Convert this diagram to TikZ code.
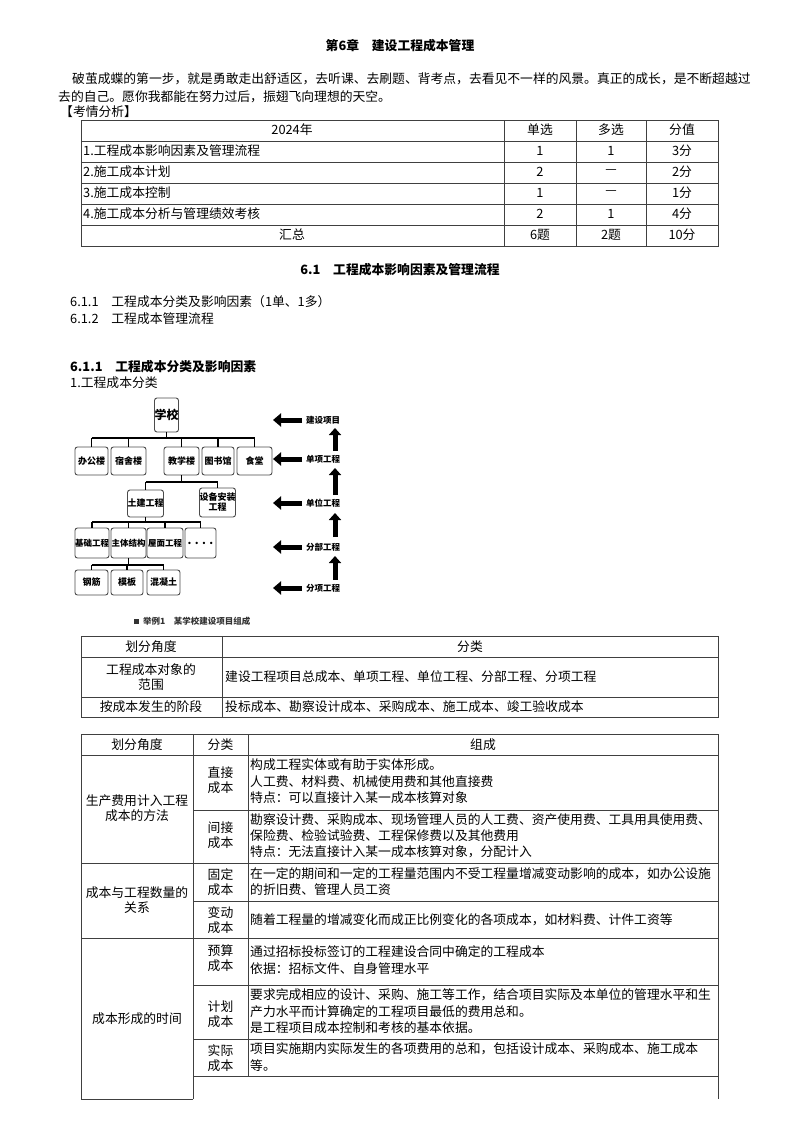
\documentclass[tikz,border=0pt]{standalone}
\usepackage{fontspec}
\setmainfont{Noto Sans CJK SC}
\usetikzlibrary{arrows.meta}
\begin{document}
\begin{tikzpicture}[x=1pt,y=-1pt,
  every node/.style={inner sep=0pt,font=\fontsize{12.8}{15}\selectfont},
  tl/.style={anchor=west},
  grid/.style={draw=black!75,line width=0.9pt},
  bx/.style={draw=black!70,line width=0.9pt,rounded corners=2.5pt,fill=white,minimum height=28pt,font=\fontsize{9}{10}\bfseries\selectfont,align=center},
  conn/.style={line width=1.1pt},
  lab/.style={font=\fontsize{8.5}{10}\bfseries\selectfont,anchor=west},
  larr/.style={line width=5pt,-{Triangle[length=8pt,width=13pt]}},
  uarr/.style={line width=5pt,-{Triangle[length=7pt,width=12pt]}}]
\useasboundingbox (0,0) rectangle (800,1132);
% header
\node[font=\fontsize{12.8}{15}\bfseries\selectfont] (t) at (400,46) {第6章\quad 建设工程成本管理};
\node[tl] (p1) at (72,79) {破茧成蝶的第一步，就是勇敢走出舒适区，去听课、去刷题、背考点，去看见不一样的风景。真正的成长，是不断超越过};
\node[tl] (p2) at (58,97) {去的自己。愿你我都能在努力过后，振翅飞向理想的天空。};
\node[tl] (p3) at (60,112) {【考情分析】};
% table 1
\draw[grid] (81,120) rectangle (718,246);
\foreach \y in {141,162,183,204,225} \draw[grid] (81,\y) -- (718,\y);
\foreach \x in {504,576,646} \draw[grid] (\x,120) -- (\x,246);
\node (h1) at (292,130) {2024年}; \node (h2) at (540,130) {单选}; \node (h3) at (611,130) {多选}; \node (h4) at (682,130) {分值};
\node[tl] (r1) at (83,151) {1.工程成本影响因素及管理流程}; \node (r1a) at (540,151) {1}; \node (r1b) at (611,151) {1}; \node (r1c) at (682,151) {3分};
\node[tl] (r2) at (83,172) {2.施工成本计划}; \node (r2a) at (540,172) {2}; \node (r2b) at (611,172) {—}; \node (r2c) at (682,172) {2分};
\node[tl] (r3) at (83,193) {3.施工成本控制}; \node (r3a) at (540,193) {1}; \node (r3b) at (611,193) {—}; \node (r3c) at (682,193) {1分};
\node[tl] (r4) at (83,214) {4.施工成本分析与管理绩效考核}; \node (r4a) at (540,214) {2}; \node (r4b) at (611,214) {1}; \node (r4c) at (682,214) {4分};
\node (r5) at (292,235) {汇总}; \node (r5a) at (540,235) {6题}; \node (r5b) at (611,235) {2题}; \node (r5c) at (682,235) {10分};
% headings
\node[font=\fontsize{12.8}{15}\bfseries\selectfont] (s1) at (400,270) {6.1\quad 工程成本影响因素及管理流程};
\node[tl] (s2) at (70,302) {6.1.1\quad 工程成本分类及影响因素（1单、1多）};
\node[tl] (s3) at (70,319) {6.1.2\quad 工程成本管理流程};
\node[tl,font=\fontsize{12.8}{15}\bfseries\selectfont] (s4) at (70,367) {6.1.1\quad 工程成本分类及影响因素};
\node[tl] (s5) at (70,383) {1.工程成本分类};
% diagram
\node[bx,minimum width=23pt,minimum height=34pt,font=\fontsize{12}{13}\bfseries\selectfont] (xx) at (166.5,415) {学校};
\node[bx,minimum width=33pt] (b1) at (91.5,461) {办公楼};
\node[bx,minimum width=35pt] (b2) at (128.5,461) {宿舍楼};
\node[bx,minimum width=35pt] (b3) at (181.5,461) {教学楼};
\node[bx,minimum width=32pt] (b4) at (218,461) {图书馆};
\node[bx,minimum width=35pt] (b5) at (254.5,461) {食堂};
\node[bx,minimum width=35pt,minimum height=27pt] (c1) at (145.5,503.5) {土建工程};
\node[bx,minimum width=35pt,minimum height=29pt] (c2) at (217.5,502.5) {设备安装\\工程};
\node[bx,minimum width=34pt,minimum height=30pt,font=\fontsize{8.5}{10}\bfseries\selectfont] (d1) at (92,543) {基础工程};
\node[bx,minimum width=35pt,minimum height=30pt,font=\fontsize{8.5}{10}\bfseries\selectfont] (d2) at (128.5,543) {主体结构};
\node[bx,minimum width=36pt,minimum height=30pt,font=\fontsize{8.5}{10}\bfseries\selectfont] (d3) at (165,543) {屋面工程};
\node[bx,minimum width=31pt,minimum height=30pt,font=\fontsize{11}{12}\bfseries\selectfont] (d4) at (200.5,543) {. . . .};
\node[bx,minimum width=33pt,minimum height=25pt] (e1) at (91.5,582.5) {钢筋};
\node[bx,minimum width=32pt,minimum height=25pt] (e2) at (127,582.5) {模板};
\node[bx,minimum width=33pt,minimum height=25pt] (e3) at (163.5,582.5) {混凝土};
\draw[conn] (xx.south) -- (xx.south |- 0,438);
\draw[conn] (b1.north |- 0,438) -- (b5.north |- 0,438);
\foreach \n in {b1,b2,b3,b4,b5} \draw[conn] (\n.north |- 0,438) -- (\n.north);
\draw[conn] (b3.south) -- (b3.south |- 0,482);
\draw[conn] (c1.north |- 0,482) -- (c2.north |- 0,482);
\foreach \n in {c1,c2} \draw[conn] (\n.north |- 0,482) -- (\n.north);
\draw[conn] (c1.south) -- (c1.south |- 0,522);
\draw[conn] (d1.north |- 0,522) -- (d4.north |- 0,522);
\foreach \n in {d1,d2,d3,d4} \draw[conn] (\n.north |- 0,522) -- (\n.north);
\draw[conn] (d2.south) -- (d2.south |- 0,565);
\draw[conn] (e1.north |- 0,565) -- (e3.north |- 0,565);
\foreach \n in {e1,e2,e3} \draw[conn] (\n.north |- 0,565) -- (\n.north);
\node[lab] (l1) at (306,420) {建设项目};
\node[lab] (l2) at (306,459) {单项工程};
\node[lab] (l3) at (306,503) {单位工程};
\node[lab] (l4) at (306,547) {分部工程};
\node[lab] (l5) at (306,588) {分项工程};
\foreach \n in {l1,l2,l3,l4,l5} {\coordinate (\n s) at ([xshift=-4pt]\n.west); \coordinate (\n e) at ([xshift=-33pt]\n.west); \draw[larr] (\n s) -- (\n e);}
\foreach \a/\b/\ya/\yb in {l5/l4/580/556,l4/l3/537/513,l3/l2/495/468,l2/l1/451/428} {
  \coordinate (\a u) at (335,\ya); \coordinate (\b d) at (335,\yb);
  \draw[uarr] (\a u) -- (\b d);}
\node[tl,font=\fontsize{8.5}{10}\bfseries\selectfont,text=black!80] (cap) at (134,621) {\rule{5pt}{5pt}\ \ 举例1\quad 某学校建设项目组成};
% table 2
\draw[grid] (81,636) rectangle (718,717);
\foreach \y in {657,697} \draw[grid] (81,\y) -- (718,\y);
\draw[grid] (222,636) -- (222,717);
\node (t2h1) at (151,647) {划分角度}; \node (t2h2) at (470,647) {分类};
\node[align=center] (t2a) at (151,677) {工程成本对象的\\范围};
\node[tl] (t2b) at (225,677) {建设工程项目总成本、单项工程、单位工程、分部工程、分项工程};
\node (t2c) at (151,707) {按成本发生的阶段};
\node[tl] (t2d) at (225,707) {投标成本、勘察设计成本、采购成本、施工成本、竣工验收成本};
% table 3
\draw[grid] (81,734) -- (718,734);
\draw[grid] (81,734) -- (81,1099) -- (193,1099);
\draw[grid] (193,734) -- (193,1099);
\draw[grid] (718,734) -- (718,1099);
\draw[grid] (248,734) -- (248,1076);
\draw[grid] (193,1076) -- (718,1076);
\draw[grid] (81,755) -- (718,755);
\foreach \y in {863,938} \draw[grid] (81,\y) -- (718,\y);
\foreach \y in {810,901,985,1039} \draw[grid] (193,\y) -- (718,\y);
\node (t3h1) at (137,745) {划分角度}; \node (t3h2) at (220.5,745) {分类}; \node (t3h3) at (483,745) {组成};
\node[align=center] (t3a) at (137,808) {生产费用计入工程\\成本的方法};
\node[align=center] (t3b) at (137,900) {成本与工程数量的\\关系};
\node (t3c) at (137,1019) {成本形成的时间};
\node[align=center] (k1) at (220.5,780) {直接\\成本};
\node[align=center] (k2) at (220.5,835) {间接\\成本};
\node[align=center] (k3) at (220.5,882) {固定\\成本};
\node[align=center] (k4) at (220.5,920) {变动\\成本};
\node[align=center] (k5) at (220.5,958) {预算\\成本};
\node[align=center] (k6) at (220.5,1014) {计划\\成本};
\node[align=center] (k7) at (220.5,1058) {实际\\成本};
\node[tl] (z1) at (250,765) {构成工程实体或有助于实体形成。};
\node[tl] (z2) at (250,782) {人工费、材料费、机械使用费和其他直接费};
\node[tl] (z3) at (250,798) {特点：可以直接计入某一成本核算对象};
\node[tl] (z4) at (250,820) {勘察设计费、采购成本、现场管理人员的人工费、资产使用费、工具用具使用费、};
\node[tl] (z5) at (250,836) {保险费、检验试验费、工程保修费以及其他费用};
\node[tl] (z6) at (250,852) {特点：无法直接计入某一成本核算对象，分配计入};
\node[tl] (z7) at (250,874) {在一定的期间和一定的工程量范围内不受工程量增减变动影响的成本，如办公设施};
\node[tl] (z8) at (250,890) {的折旧费、管理人员工资};
\node[tl] (z9) at (250,920) {随着工程量的增减变化而成正比例变化的各项成本，如材料费、计件工资等};
\node[tl] (z10) at (250,952) {通过招标投标签订的工程建设合同中确定的工程成本};
\node[tl] (z11) at (250,969) {依据：招标文件、自身管理水平};
\node[tl] (z12) at (250,995) {要求完成相应的设计、采购、施工等工作，结合项目实际及本单位的管理水平和生};
\node[tl] (z13) at (250,1012) {产力水平而计算确定的工程项目最低的费用总和。};
\node[tl] (z14) at (250,1028) {是工程项目成本控制和考核的基本依据。};
\node[tl] (z15) at (250,1049) {项目实施期内实际发生的各项费用的总和，包括设计成本、采购成本、施工成本};
\node[tl] (z16) at (250,1066) {等。};
\end{tikzpicture}
\end{document}
